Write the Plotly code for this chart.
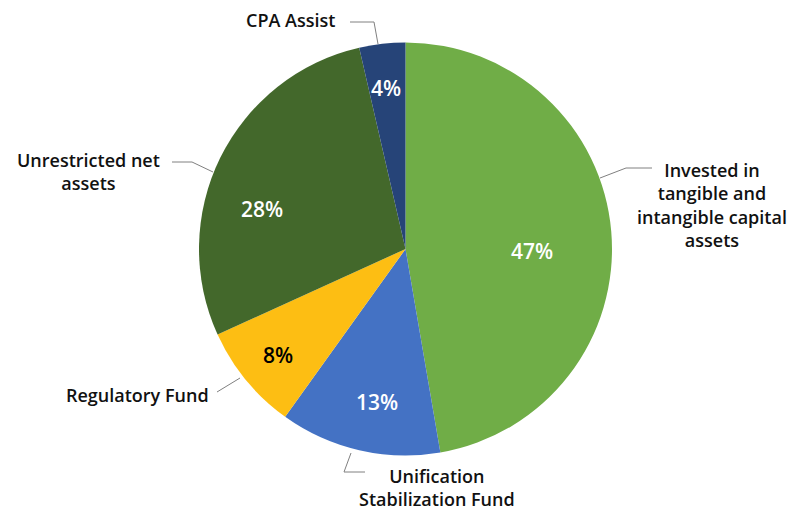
import plotly.graph_objects as go

# ---- data ----
categories = [
    "Invested in tangible and intangible capital assets",
    "Unification Stabilization Fund",
    "Regulatory Fund",
    "Unrestricted net assets",
    "CPA Assist",
]
label_texts = [
    "Invested in<br>tangible and<br>intangible capital<br>assets",
    "Unification<br>Stabilization Fund",
    "Regulatory Fund",
    "Unrestricted net<br>assets",
    "CPA Assist",
]
values = [47.3, 12.6, 8.3, 28.2, 3.6]

# ---- style / layout ----
colors = ["#70AD47", "#4472C4", "#FDBE13", "#43682B", "#264478"]
pct_colors = ["white", "white", "black", "white", "white"]
W, H = 795, 510
OFF = 8  # page body margin
CX, CY, R = 405.5, 249, 206.5

def px(x):
    return (x - OFF) / W

def py(y):
    return 1 - (y - OFF) / H

# percent label centres (screen pixels)
pct_pos = [(532, 251), (377, 402), (278, 355), (262, 209), (386, 88)]
# category label anchors (screen pixels)
lab_pos = [(712, 205), (437, 487), (137, 395), (88, 172), (290, 20)]
# leader line paths (screen pixels)
leaders = [
    [(600, 178), (626, 168), (652, 168)],
    [(351, 453), (344, 472), (365, 472)],
    [(217, 392), (240, 378)],
    [(172, 162), (192, 162), (213, 172)],
    [(350, 22), (374, 22), (378, 44)],
]

font_family = "'Open Sans', Lato, sans-serif"

fig = go.Figure(go.Pie(
    labels=categories,
    values=values,
    sort=False,
    direction="clockwise",
    rotation=0,
    marker=dict(colors=colors, line=dict(width=0)),
    textinfo="none",
    hoverinfo="label+percent",
    showlegend=False,
    domain=dict(x=[px(CX - R), px(CX + R)], y=[py(CY + R), py(CY - R)]),
))

total = sum(values)
annotations = []
for v, (x, y), c in zip(values, pct_pos, pct_colors):
    annotations.append(dict(
        x=px(x), y=py(y), xref="paper", yref="paper",
        text=f"{round(100 * v / total)}%", showarrow=False,
        font=dict(family=font_family, size=21, color=c, weight=600),
        xanchor="center", yanchor="middle",
    ))
for t, (x, y) in zip(label_texts, lab_pos):
    annotations.append(dict(
        x=px(x), y=py(y), xref="paper", yref="paper",
        text=t, showarrow=False, align="center",
        font=dict(family=font_family, size=18, color="#111111", weight=600),
        xanchor="center", yanchor="middle",
    ))

shapes = []
for pts in leaders:
    path = "M " + " L ".join(f"{px(x)} {py(y)}" for x, y in pts)
    shapes.append(dict(type="path", path=path, xref="paper", yref="paper",
                       line=dict(color="#808080", width=1)))

fig.update_layout(
    width=W, height=H,
    margin=dict(l=0, r=0, t=0, b=0),
    paper_bgcolor="white",
    plot_bgcolor="white",
    annotations=annotations,
    shapes=shapes,
)

fig.write_html("out.html")
